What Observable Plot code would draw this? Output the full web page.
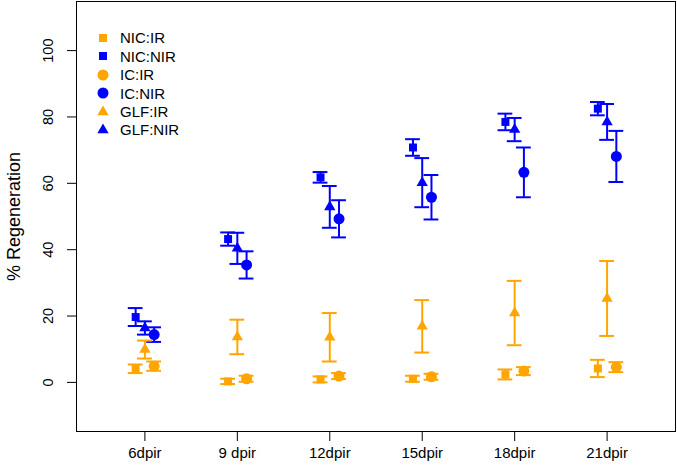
<!DOCTYPE html>
<html><head><meta charset="utf-8">
<script src="https://cdn.jsdelivr.net/npm/d3@7"></script>
<script src="https://cdn.jsdelivr.net/npm/@observablehq/plot@0.6"></script>
<style>
body{margin:0;background:#fff;font-family:"Liberation Sans",Arial,sans-serif;}
#wrap{position:relative;width:677px;height:470px;}
#legend{position:absolute;left:96px;top:28.8px;}
.row{display:flex;align-items:center;height:18.4px;font-size:15px;color:#000;white-space:nowrap;}
.row svg{width:14px;height:14px;margin-right:10px;flex:none}
</style></head><body><div id="wrap"></div>
<script>
// categories (x tick labels)
const timepoints = ["6dpir", "9 dpir", "12dpir", "15dpir", "18dpir", "21dpir"];
const seriesNames = ["NIC:IR", "NIC:NIR", "IC:IR", "IC:NIR", "GLF:IR", "GLF:NIR"];
const yTicks = [0, 20, 40, 60, 80, 100];

// series means and error (half-range)
const nicIR    = [4.1, 0.3, 0.9, 1.1, 2.4, 4.2];
const nicIRerr = [1.3, 0.8, 0.9, 0.9, 1.5, 2.6];
const nicNIR    = [19.7, 43.2, 61.8, 70.8, 78.5, 82.5];
const nicNIRerr = [2.7, 2.0, 1.6, 2.5, 2.5, 2.0];
const icIR    = [4.9, 1.1, 1.9, 1.7, 3.4, 4.6];
const icIRerr = [1.4, 0.9, 0.9, 0.9, 1.2, 1.5];
const icNIR    = [14.4, 35.4, 49.3, 55.8, 63.3, 68.1];
const icNIRerr = [2.2, 4.1, 5.6, 6.7, 7.5, 7.7];
const glfIR    = [9.9, 13.7, 13.6, 16.9, 20.9, 25.3];
const glfIRerr = [2.7, 5.2, 7.3, 7.9, 9.7, 11.3];
const glfNIR    = [16.4, 40.4, 52.9, 60.2, 76.2, 78.5];
const glfNIRerr = [2.0, 4.7, 6.3, 7.4, 3.5, 5.4];

const ORANGE = "#FFA500", BLUE = "#0000FF";
const series = [
  {name: "NIC:IR",  vals: nicIR,  err: nicIRerr,  color: ORANGE, shape: "square",   off: -0.1},
  {name: "NIC:NIR", vals: nicNIR, err: nicNIRerr, color: BLUE,   shape: "square",   off: -0.1},
  {name: "IC:IR",   vals: icIR,   err: icIRerr,   color: ORANGE, shape: "circle",   off: 0.1},
  {name: "IC:NIR",  vals: icNIR,  err: icNIRerr,  color: BLUE,   shape: "circle",   off: 0.1},
  {name: "GLF:IR",  vals: glfIR,  err: glfIRerr,  color: ORANGE, shape: "triangle", off: 0},
  {name: "GLF:NIR", vals: glfNIR, err: glfNIRerr, color: BLUE,   shape: "triangle", off: 0}
];
const R = {square: 4.5, circle: 5.5, triangle: 4.2};

const rows = [];
series.forEach(s => s.vals.forEach((v, i) => rows.push({
  series: s.name, x: i + 1 + s.off, mean: v, lo: v - s.err[i], hi: v + s.err[i],
  color: s.color, shape: s.shape
})));
const caps = [];
const capW = 0.08;
rows.forEach(d => { for (const v of [d.lo, d.hi]) caps.push({v, x1: d.x - capW, x2: d.x + capW, color: d.color}); });

const chart = Plot.plot({
  width: 677, height: 470,
  marginLeft: 76, marginRight: 2, marginTop: 1, marginBottom: 39,
  style: {fontFamily: "Liberation Sans, Arial, sans-serif", color: "#000", background: "#fff"},
  x: {domain: [0.26, 6.74]},
  y: {domain: [-14.8, 114.8]},
  color: {type: "identity"},
  marks: [
    Plot.axisX({ticks: [1, 2, 3, 4, 5, 6], tickFormat: d => timepoints[d - 1], tickSize: 10, tickPadding: 6, fontSize: 15, label: null}),
    Plot.axisY({ticks: yTicks, tickSize: 9, tickPadding: 15, tickRotate: -90, fontSize: 14.5, label: null}),
    Plot.axisY({ticks: [], label: "% Regeneration", labelAnchor: "center", labelOffset: 69, labelArrow: "none", fontSize: 18}),
    Plot.ruleX(rows, {x: "x", y1: "lo", y2: "hi", stroke: "color", strokeWidth: 2}),
    Plot.ruleY(caps, {y: "v", x1: "x1", x2: "x2", stroke: "color", strokeWidth: 2}),
    Plot.dot(rows.filter(d => d.shape === "square"), {x: "x", y: "mean", fill: "color", symbol: "square", r: R.square}),
    Plot.dot(rows.filter(d => d.shape === "circle"), {x: "x", y: "mean", fill: "color", symbol: "circle", r: R.circle}),
    Plot.dot(rows.filter(d => d.shape === "triangle"), {x: "x", y: "mean", fill: "color", symbol: "triangle", r: R.triangle}),
    Plot.frame({stroke: "#000", strokeWidth: 1})
  ]
});
const wrap = document.getElementById("wrap");
wrap.appendChild(chart);

// legend (top-left, inside plot area)
const legend = document.createElement("div");
legend.id = "legend";
const symMap = {square: d3.symbolSquare, circle: d3.symbolCircle, triangle: d3.symbolTriangle};
series.forEach(s => {
  const row = document.createElement("div");
  row.className = "row";
  const size = Math.PI * R[s.shape] * R[s.shape];
  const path = d3.symbol(symMap[s.shape], size)();
  row.innerHTML = `<svg viewBox="-7 -7 14 14"><path d="${path}" fill="${s.color}"/></svg><span>${s.name}</span>`;
  legend.appendChild(row);
});
wrap.appendChild(legend);
</script>
</body></html>
